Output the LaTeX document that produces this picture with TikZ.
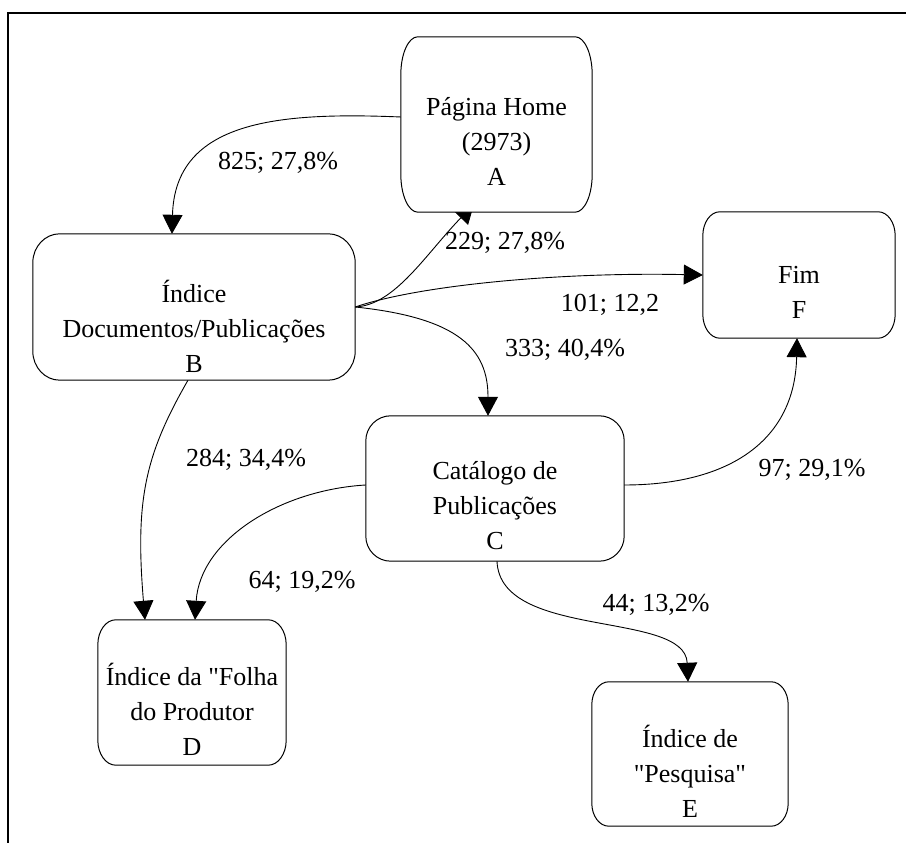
\documentclass[tikz,border=0pt]{standalone}
\usepackage{fontspec}
\setmainfont{Liberation Serif}[Ligatures=TeXOff]
\usetikzlibrary{arrows.meta,calc}
\pgfdeclarelayer{edges}
\pgfsetlayers{edges,main}
\newcommand\myrbox[3]{%
  \path[boxline] ($(#1.north west)+(#2,0)$) -- ($(#1.north east)+(-#2,0)$)
    arc[start angle=90,end angle=0,x radius=#2pt,y radius=#3pt]
    -- ($(#1.south east)+(0,#3)$)
    arc[start angle=0,end angle=-90,x radius=#2pt,y radius=#3pt]
    -- ($(#1.south west)+(#2,0)$)
    arc[start angle=270,end angle=180,x radius=#2pt,y radius=#3pt]
    -- ($(#1.north west)+(0,-#3)$)
    arc[start angle=180,end angle=90,x radius=#2pt,y radius=#3pt] -- cycle;}
\begin{document}
\begin{tikzpicture}[x=1pt,y=1pt,
  font=\fontsize{26}{35}\selectfont,
  boxnode/.style={draw=none,inner sep=0pt,rectangle},
  boxline/.style={draw=black,line width=1pt,fill=white},
  txt/.style={align=center,inner sep=0pt},
  lbl/.style={inner sep=0pt},
  conn/.style={line width=0.9pt,-{Triangle[length=19pt,width=20pt]}},
  frame/.style={line width=2.7pt,line join=miter}]
\useasboundingbox (0,0) rectangle (906,843);
\draw[frame] (906,830) -- (8,830) -- (8,0);
% box frames (invisible nodes carrying names/sizes)
\node[boxnode,minimum width=191pt,minimum height=175pt] (A) at (496.5,718.5) {};
\node[boxnode,minimum width=322pt,minimum height=146pt] (B) at (194,536) {};
\node[boxnode,minimum width=192pt,minimum height=126pt] (F) at (799,568) {};
\node[boxnode,minimum width=258pt,minimum height=145pt] (C) at (495,354.5) {};
\node[boxnode,minimum width=188pt,minimum height=145pt] (D) at (192,150.5) {};
\node[boxnode,minimum width=196pt,minimum height=144pt] (E) at (690,89) {};
\myrbox{A}{17}{38}
\myrbox{B}{27}{29}
\myrbox{F}{17}{24}
\myrbox{C}{25}{25}
\myrbox{D}{18}{25}
\myrbox{E}{17}{23}
% texts
\node[txt] (At) at ($(A)+(0,-17)$) {Página Home\\(2973)\\A};
\node[txt] (Bt) at ($(B)+(0,-19)$) {Índice\\Documentos/Publicações\\B};
\node[txt] (Ft) at ($(F)+(0,-17)$) {Fim\\F};
\node[txt] (Ct) at ($(C)+(0,-17)$) {Catálogo de\\Publicações\\C};
\node[txt] (Dt) at ($(D)+(0,-17)$) {Índice da "Folha\\do Produtor\\D};
\node[txt] (Et) at ($(E)+(0,-17)$) {Índice de\\"Pesquisa"\\E};
% connectors
\begin{pgfonlayer}{edges}
\draw[conn] ($(A.west)+(0,7.5)$) .. controls (280,731) and (175,723) .. ($(B.north)+(-22,0)$);
\draw[conn] (B.east) .. controls (395,538) and (425,588) .. ($(A.south)+(-22.5,8)$);
\draw[conn] (B.east) .. controls (420,558) and (560,571) .. (F.west);
\draw[conn] (B.east) .. controls (460,525) and (488,493) .. ($(C.north)+(-7,0)$);
\draw[conn] ($(B.south)+(-6,0)$) .. controls (145,388) and (135,343) .. ($(D.north)+(-47,0)$);
\draw[conn] ($(C.west)+(0,3.5)$) .. controls (280,353) and (200,303) .. ($(D.north)+(3,0)$);
\draw[conn] ($(C.east)+(0,3.5)$) .. controls (730,358) and (795,403) .. ($(F.south)+(-2,0)$);
\draw[conn] ($(C.south)+(2,0)$) .. controls (500,203) and (685,233) .. ($(E.north)+(-2,0)$);
\end{pgfonlayer}
% connector labels
\node[lbl] (l1) at (278,680) {825; 27,8\%};
\node[lbl] (l2) at (505,600) {229; 27,8\%};
\node[lbl] (l3) at (610,538) {101; 12,2};
\node[lbl] (l4) at (565,493) {333; 40,4\%};
\node[lbl] (l5) at (246,383) {284; 34,4\%};
\node[lbl] (l6) at (302,261) {64; 19,2\%};
\node[lbl] (l7) at (812,373) {97; 29,1\%};
\node[lbl] (l8) at (656,238) {44; 13,2\%};
\end{tikzpicture}
\end{document}
